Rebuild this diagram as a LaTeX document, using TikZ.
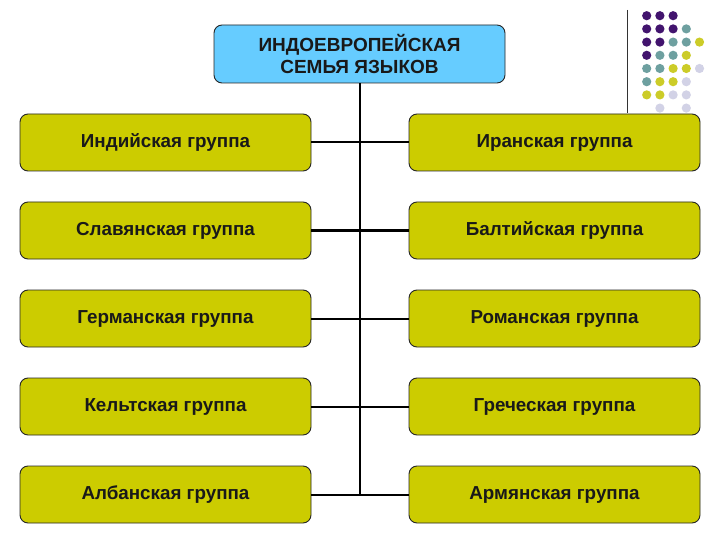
\documentclass[tikz,border=0pt]{standalone}
\usepackage{fontspec}
\setmainfont{Liberation Sans}
\begin{document}
\begin{tikzpicture}[x=1pt,y=-1pt,
  grp/.style={draw=black!85,line width=0.9pt,rounded corners=8pt,fill=grpyellow,
    minimum width=291pt,minimum height=57pt,inner sep=0pt,
    font=\fontsize{18.8}{22}\selectfont\bfseries,text=black!90},
  top/.style={draw=black!85,line width=0.9pt,rounded corners=8pt,fill=topblue,
    minimum width=291pt,minimum height=58pt,inner sep=0pt,align=center,
    font=\fontsize{19}{22.5}\selectfont\bfseries,text=black!90},
  link/.style={line width=2pt,black},
  dotP/.style={fill=dpurple,draw=none},
  dotT/.style={fill=dteal,draw=none},
  dotY/.style={fill=dyellow,draw=none},
  dotL/.style={fill=dlav,draw=none}]
\definecolor{grpyellow}{RGB}{204,204,0}
\definecolor{topblue}{RGB}{102,204,255}
\definecolor{dpurple}{RGB}{66,20,110}
\definecolor{dteal}{RGB}{110,160,160}
\definecolor{dyellow}{RGB}{204,204,40}
\definecolor{dlav}{RGB}{210,210,230}
\useasboundingbox[fill=white] (0,0) rectangle (720,540);

% decorative line and dots
\coordinate (dl1) at (627.5,10);
\coordinate (dl2) at (627.5,113);
\draw[line width=0.8pt,black!80] (dl1) -- (dl2);
\foreach \r/\row in {0/{P,P,P},1/{P,P,P,T},2/{P,P,T,T,Y},3/{P,T,T,Y},4/{T,T,Y,Y,L},5/{T,Y,Y,L},6/{Y,Y,L,L}}{
  \foreach \s [count=\c from 0] in \row {
    \fill[dot\s] ({646.7+13.2*\c},{15.7+13.2*\r}) circle (4.6);
  }
}
\fill[dotL] ({646.7+13.2},{15.7+13.2*7}) circle (4.6);
\fill[dotL] ({646.7+13.2*3},{15.7+13.2*7}) circle (4.6);

\node[top] (ie) at (359.5,54) {ИНДОЕВРОПЕЙСКАЯ\\СЕМЬЯ ЯЗЫКОВ};
\coordinate (bot) at (360,494);
\draw[link] (ie.south -| bot) -- (bot);

\node[grp] (l1) at (165.5,142.5) {Индийская группа};
\node[grp] (r1) at (554.5,142.5) {Иранская группа};
\node[grp] (l2) at (165.5,230.5) {Славянская группа};
\node[grp] (r2) at (554.5,230.5) {Балтийская группа};
\node[grp] (l3) at (165.5,318.5) {Германская группа};
\node[grp] (r3) at (554.5,318.5) {Романская группа};
\node[grp] (l4) at (165.5,406.5) {Кельтская группа};
\node[grp] (r4) at (554.5,406.5) {Греческая группа};
\node[grp] (l5) at (165.5,494.5) {Албанская группа};
\node[grp] (r5) at (554.5,494.5) {Армянская группа};

\foreach \i in {1,...,5}{
  \draw[link] (l\i.east) -- (r\i.west);
}
\end{tikzpicture}
\end{document}
